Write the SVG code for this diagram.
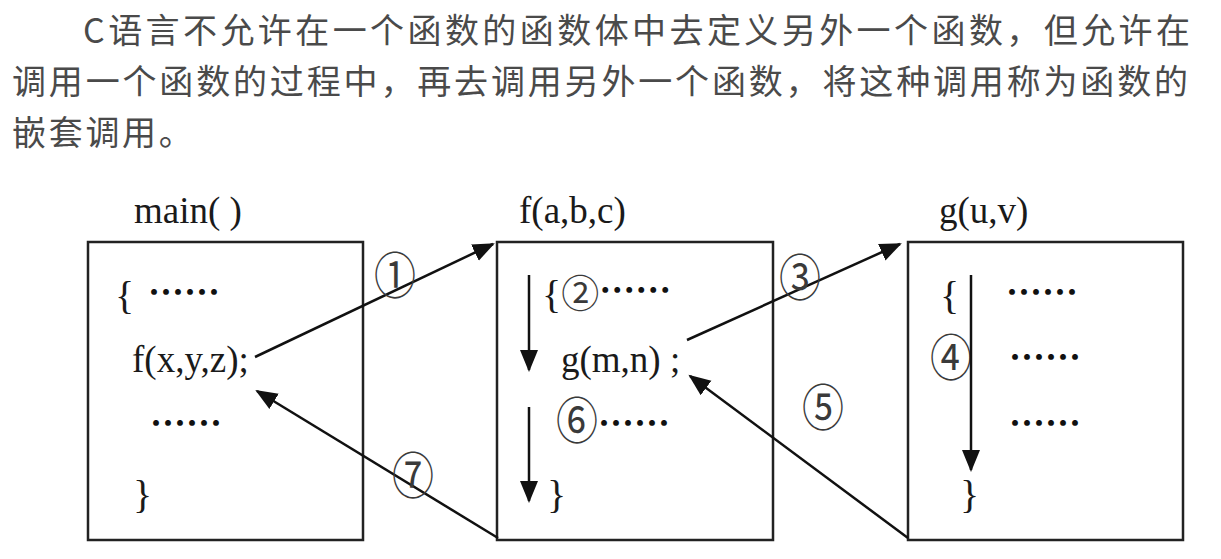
<svg xmlns="http://www.w3.org/2000/svg" width="1221" height="559" viewBox="0 0 1221 559">
<style>
.para{font-family:"Noto Sans CJK SC","Noto Sans",sans-serif;font-size:34px;fill:#4a4a4a}
.code{font-family:"Liberation Serif","Times New Roman",serif;font-size:37px;fill:#1a1a1a}
.brace{font-family:"Liberation Serif","Times New Roman",serif;font-size:40px;fill:#1a1a1a}
.dots{font-family:"Noto Sans CJK SC",sans-serif;font-size:36px;font-weight:bold;fill:#111}
.num{font-family:"Noto Sans CJK SC","DejaVu Sans",sans-serif;font-size:42px;fill:#3a3a3a;text-anchor:middle}
.numi{font-family:"Noto Sans CJK SC","DejaVu Sans",sans-serif;font-size:38px;fill:#3a3a3a}
.box{fill:none;stroke:#222;stroke-width:2.5}
.conn{stroke:#111;stroke-width:2.5;fill:none;marker-end:url(#ah)}
</style>
<defs>
<marker id="ah" markerUnits="userSpaceOnUse" markerWidth="24" markerHeight="20" refX="20" refY="10" orient="auto">
<path d="M0,1 L22,10 L0,19 Z" fill="#111"/>
</marker>
</defs>
<rect width="1221" height="559" fill="#fff"/>
<g id="paragraph">
<text class="para" x="83" y="43" textLength="1107" lengthAdjust="spacing">C语言不允许在一个函数的函数体中去定义另外一个函数，但允许在</text>
<text class="para" x="12" y="94" textLength="1176" lengthAdjust="spacing">调用一个函数的过程中，再去调用另外一个函数，将这种调用称为函数的</text>
<text class="para" x="12" y="145" letter-spacing="2.7">嵌套调用。</text>
</g>
<g id="node-main">
<rect class="box" x="88" y="242" width="275" height="298"/>
<text class="code" x="134" y="223">main( )</text>
<text class="brace" x="115" y="309">{</text>
<text class="dots" x="148" y="306">……</text>
<text class="code" x="132" y="372">f(x,y,z);</text>
<text class="dots" x="150" y="437">……</text>
<text class="brace" x="133" y="508">}</text>
</g>
<g id="node-f">
<rect class="box" x="497" y="242" width="276" height="298"/>
<text class="code" x="519" y="223">f(a,b,c)</text>
<text x="542" y="308"><tspan class="brace">{</tspan><tspan class="numi" y="306.5">②</tspan><tspan class="dots" y="304">……</tspan></text>
<text class="code" x="561" y="372">g(m,n) ;</text>
<text class="num" transform="translate(577,420) scale(1,1.2)" x="0" y="15.5">⑥</text>
<text class="dots" x="598" y="437">……</text>
<text class="brace" x="547" y="508">}</text>
</g>
<g id="node-g">
<rect class="box" x="908" y="242" width="275" height="298"/>
<text class="code" x="939" y="223">g(u,v)</text>
<text class="brace" x="940" y="309">{</text>
<text class="dots" x="1006" y="306">……</text>
<text class="num" transform="translate(951,357) scale(1,1.2)" x="0" y="15.5">④</text>
<text class="dots" x="1009" y="371">……</text>
<text class="dots" x="1009" y="437">……</text>
<text class="brace" x="960" y="508">}</text>
</g>
<g id="connectors">
<line class="conn" x1="255" y1="357" x2="493" y2="244"/>
<line class="conn" x1="498" y1="538" x2="257" y2="391"/>
<line class="conn" x1="687" y1="340" x2="900" y2="244"/>
<line class="conn" x1="908" y1="538" x2="690" y2="376"/>
<line class="conn" x1="529" y1="275" x2="529" y2="370"/>
<line class="conn" x1="529" y1="407" x2="529" y2="501"/>
<line class="conn" x1="971" y1="275" x2="971" y2="470"/>
</g>
<g id="labels">
<text class="num" transform="translate(395,275) scale(1,1.2)" x="0" y="15.5">①</text>
<text class="num" transform="translate(800,277) scale(1,1.2)" x="0" y="15.5">③</text>
<text class="num" transform="translate(823,407) scale(1,1.2)" x="0" y="15.5">⑤</text>
<text class="num" transform="translate(413,475) scale(1,1.2)" x="0" y="15.5">⑦</text>
</g>
</svg>
